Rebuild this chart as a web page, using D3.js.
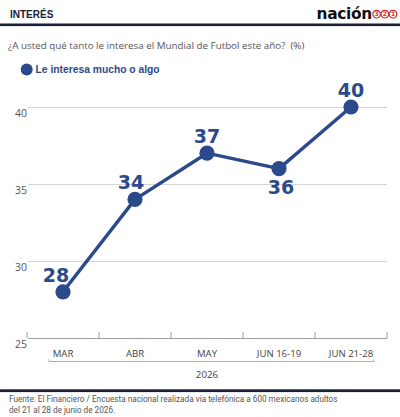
<!DOCTYPE html>
<html><head><meta charset="utf-8">
<script src="https://cdn.jsdelivr.net/npm/d3@7"></script>
<style>body{margin:0;background:#fff}svg{display:block}</style>
</head><body><svg id="c" width="400" height="417"></svg>
<script>
// ---- data ----
const categories = ["MAR", "ABR", "MAY", "JUN 16-19", "JUN 21-28"];
const values = [28, 34, 37, 36, 40];
const yTicks = [25, 30, 35, 40];
const labelSide = ["above", "above", "above", "below", "above"];
const seriesName = "Le interesa mucho o algo";
const yearLabel = "2026";
const headerTitle = "INTERÉS";
const subtitle = "¿A usted qué tanto le interesa el Mundial de Futbol este año?  (%)";
const footLines = ["Fuente: El Financiero / Encuesta nacional realizada vía telefónica a 600 mexicanos adultos",
                   "del 21 al 28 de junio de 2026."];
const logoWord = "nación";
const logoDigits = ["3", "2", "1"];

// ---- style ----
const NAVY = "#2c4a8b", DARK = "#1b2038", RED = "#e0262b";
const SANS = "'Open Sans', 'Liberation Sans', sans-serif";
const svg = d3.select("#c");

// header
svg.append("text").attr("x", 10).attr("y", 17.5).text(headerTitle)
  .attr("font-family", "'Liberation Sans', Arial, sans-serif").attr("font-weight", 700)
  .attr("font-size", 10).attr("fill", DARK);
svg.append("text").attr("x", 372).attr("y", 18.5).attr("text-anchor", "end").text(logoWord)
  .attr("font-family", "'DejaVu Sans', sans-serif").attr("font-weight", 700)
  .attr("font-size", 15.4).attr("fill", "#111").attr("letter-spacing", -0.3);
const lg = svg.append("g").selectAll("g").data(logoDigits).join("g")
  .attr("transform", (d, i) => `translate(${376.6 + i * 8.2},14.2)`);
lg.append("circle").attr("r", 3.8).attr("fill", "#fff").attr("stroke", RED).attr("stroke-width", 1.2);
lg.append("text").text(d => d).attr("text-anchor", "middle").attr("dy", 2.2)
  .attr("font-family", "'DejaVu Sans', sans-serif").attr("font-weight", 700)
  .attr("font-size", 6).attr("fill", RED);
svg.append("rect").attr("x", 0).attr("y", 23.5).attr("width", 400).attr("height", 2.6).attr("fill", DARK);

// subtitle
svg.append("text").attr("x", 8).attr("y", 49).text(subtitle).style("white-space", "pre")
  .attr("font-family", SANS).attr("font-size", 9.8).attr("fill", "#555");

// legend
svg.append("circle").attr("cx", 26.7).attr("cy", 69.5).attr("r", 6).attr("fill", NAVY);
svg.append("text").attr("x", 35.5).attr("y", 73.3).text(seriesName)
  .attr("font-family", "'Liberation Sans', Arial, sans-serif").attr("font-weight", 700)
  .attr("font-size", 10.3).attr("fill", NAVY);

// scales
const x = d3.scaleBand().domain(categories).range([27, 387]).padding(0);
const y = d3.scaleLinear().domain([25, 40]).range([338, 107]);

// grid + y labels
const gy = svg.append("g").attr("transform", "translate(27,0)")
  .call(d3.axisLeft(y).tickValues(yTicks).tickSize(0).tickPadding(0).tickFormat(d3.format("d")));
gy.select(".domain").remove();
gy.selectAll(".tick line").attr("x1", 1).attr("x2", 360)
  .attr("stroke", d => d === 25 ? "#9a9a9a" : "#d4d4d4").attr("stroke-width", 1);
gy.selectAll(".tick text").attr("x", 0).attr("dy", "0.95em").attr("text-anchor", "end")
  .attr("font-family", SANS).attr("font-size", 10.5).attr("fill", "#555");

// x axis
const gx = svg.append("g").attr("transform", `translate(0,${y(25)})`)
  .call(d3.axisBottom(x).tickSize(0).tickPadding(12));
gx.select(".domain").remove();
gx.selectAll(".tick text").attr("font-family", SANS).attr("font-size", 9.6).attr("fill", "#444");
// band boundary ticks
const edges = categories.map(c => x(c)).concat([x.range()[1]]);
svg.append("g").selectAll("line").data(edges).join("line")
  .attr("x1", d => d).attr("x2", d => d).attr("y1", y(25) - 6).attr("y2", y(25))
  .attr("stroke", "#9a9a9a").attr("stroke-width", 1);

// year bracket
const bx0 = x(categories[0]) + 22, bx1 = x(categories[categories.length - 1]) + x.bandwidth() - 13;
const by = 361.5;
svg.append("path").attr("d", `M${bx0},${by - 2}V${by}H${bx1}V${by - 2}`)
  .attr("fill", "none").attr("stroke", "#999").attr("stroke-width", 0.8);
svg.append("text").attr("x", (x.range()[0] + x.range()[1]) / 2).attr("y", 378).attr("text-anchor", "middle")
  .text(yearLabel).attr("font-family", SANS).attr("font-size", 9.8).attr("fill", "#444");

// line + points
const cx = d => x(d.cat) + x.bandwidth() / 2;
const pts = categories.map((c, i) => ({cat: c, v: values[i], side: labelSide[i], i}));
svg.append("path").datum(pts)
  .attr("d", d3.line().x(cx).y(d => y(d.v)))
  .attr("fill", "none").attr("stroke", NAVY).attr("stroke-width", 3.4).attr("stroke-linejoin", "round");
svg.append("g").selectAll("circle").data(pts).join("circle")
  .attr("cx", cx).attr("cy", d => y(d.v)).attr("r", 7.6).attr("fill", NAVY);
const nudge = {0: -7, 1: -4, 3: 2};
svg.append("g").selectAll("text").data(pts).join("text")
  .attr("x", d => cx(d) + (nudge[d.i] || 0))
  .attr("y", d => d.side === "above" ? y(d.v) - 10 : y(d.v) + 25)
  .attr("text-anchor", "middle").text(d => d.v)
  .attr("font-family", "'DejaVu Sans', sans-serif").attr("font-weight", 700)
  .attr("font-size", 19).attr("fill", NAVY);

// footer
svg.append("rect").attr("x", 0).attr("y", 389.3).attr("width", 400).attr("height", 2.8).attr("fill", DARK);
svg.append("g").selectAll("text").data(footLines).join("text")
  .attr("x", 9).attr("y", (d, i) => 402 + i * 11.2).text(d => d)
  .attr("font-family", "Roboto, 'Open Sans', sans-serif").attr("font-size", 8.2).attr("fill", "#555");
</script></body></html>
